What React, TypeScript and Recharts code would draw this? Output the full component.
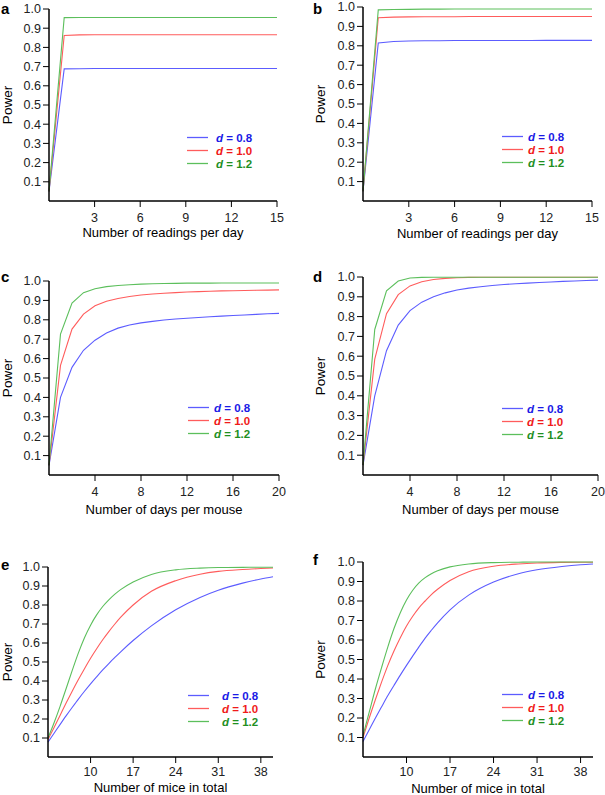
import React from "react"
import { Legend, Line, LineChart, XAxis, YAxis } from "recharts"

// x values per panel row
const readingsX = [0, 1, 2, 3, 4, 5, 6, 7, 8, 9, 10, 11, 12, 13, 14, 15]
const daysX = [0, 1, 2, 3, 4, 5, 6, 7, 8, 9, 10, 11, 12, 13, 14, 15, 16, 17, 18, 19, 20]
const miceX = [3, 4, 5, 6, 7, 8, 9, 10, 11, 12, 13, 14, 15, 17, 20, 24, 28, 31, 35, 38, 40]

const yTicks = [0.1, 0.2, 0.3, 0.4, 0.5, 0.6, 0.7, 0.8, 0.9, 1.0]
const readingsTicks = [3, 6, 9, 12, 15]
const daysTicks = [4, 8, 12, 16, 20]
const miceTicks = [10, 17, 24, 31, 38]

// effect sizes d = 0.8 / 1.0 / 1.2
const effectNames = ["0.8", "1.0", "1.2"]

// panel a
const aBlue = [0.05, 0.688, 0.689, 0.69, 0.69, 0.69, 0.69, 0.69, 0.69, 0.69, 0.69, 0.69, 0.69, 0.69, 0.69, 0.69]
const aRed = [0.05, 0.862, 0.865, 0.866, 0.866, 0.866, 0.866, 0.866, 0.866, 0.866, 0.866, 0.866, 0.866, 0.866, 0.866, 0.866]
const aGreen = [0.05, 0.955, 0.956, 0.956, 0.956, 0.956, 0.956, 0.956, 0.956, 0.956, 0.956, 0.956, 0.956, 0.956, 0.956, 0.956]

// panel b
const bBlue = [0.05, 0.815, 0.822, 0.825, 0.826, 0.826, 0.827, 0.827, 0.827, 0.827, 0.827, 0.827, 0.828, 0.828, 0.828, 0.828]
const bRed = [0.05, 0.945, 0.948, 0.949, 0.95, 0.95, 0.95, 0.951, 0.951, 0.951, 0.951, 0.951, 0.951, 0.951, 0.951, 0.951]
const bGreen = [0.05, 0.985, 0.987, 0.988, 0.989, 0.989, 0.99, 0.99, 0.99, 0.99, 0.99, 0.99, 0.99, 0.99, 0.99, 0.99]

// panel c
const cBlue = [0.05, 0.4, 0.555, 0.643, 0.695, 0.732, 0.757, 0.773, 0.784, 0.792, 0.799, 0.804, 0.808, 0.812, 0.816, 0.819, 0.822, 0.825, 0.828, 0.831, 0.833]
const cRed = [0.05, 0.565, 0.752, 0.829, 0.872, 0.896, 0.91, 0.92, 0.928, 0.933, 0.937, 0.94, 0.943, 0.945, 0.947, 0.949, 0.95, 0.951, 0.952, 0.953, 0.954]
const cGreen = [0.05, 0.726, 0.886, 0.94, 0.96, 0.971, 0.977, 0.981, 0.984, 0.986, 0.987, 0.988, 0.989, 0.989, 0.989, 0.99, 0.99, 0.99, 0.99, 0.99, 0.99]

// panel d
const dBlue = [0.05, 0.4, 0.628, 0.757, 0.83, 0.873, 0.9, 0.92, 0.934, 0.944, 0.951, 0.957, 0.962, 0.966, 0.969, 0.972, 0.975, 0.978, 0.98, 0.982, 0.984]
const dRed = [0.05, 0.585, 0.815, 0.911, 0.955, 0.976, 0.987, 0.993, 0.996, 0.998, 0.999, 0.999, 0.999, 0.999, 0.999, 0.999, 0.999, 0.999, 0.999, 0.999, 0.999]
const dGreen = [0.05, 0.735, 0.93, 0.98, 0.995, 0.998, 0.999, 0.999, 0.999, 0.999, 0.999, 0.999, 0.999, 0.999, 0.999, 0.999, 0.999, 0.999, 0.999, 0.999, 0.999]

// panel e
const eBlue = [0.078, 0.125, 0.172, 0.218, 0.262, 0.305, 0.346, 0.385, 0.422, 0.458, 0.492, 0.524, 0.555, 0.613, 0.69, 0.775, 0.84, 0.878, 0.915, 0.937, 0.949]
const eRed = [0.092, 0.155, 0.22, 0.285, 0.348, 0.408, 0.465, 0.52, 0.57, 0.617, 0.66, 0.7, 0.737, 0.8, 0.872, 0.928, 0.962, 0.977, 0.987, 0.992, 0.995]
const eGreen = [0.1, 0.18, 0.268, 0.362, 0.457, 0.548, 0.628, 0.694, 0.748, 0.792, 0.827, 0.857, 0.882, 0.921, 0.961, 0.985, 0.994, 0.997, 0.998, 0.999, 0.999]

// panel f
const fBlue = [0.08, 0.14, 0.2, 0.258, 0.315, 0.368, 0.42, 0.47, 0.518, 0.565, 0.61, 0.65, 0.688, 0.755, 0.83, 0.897, 0.94, 0.96, 0.977, 0.986, 0.99]
const fRed = [0.1, 0.2, 0.295, 0.385, 0.47, 0.545, 0.612, 0.672, 0.722, 0.765, 0.8, 0.833, 0.86, 0.905, 0.95, 0.978, 0.99, 0.995, 0.998, 0.999, 0.999]
const fGreen = [0.11, 0.23, 0.35, 0.46, 0.565, 0.66, 0.74, 0.805, 0.855, 0.893, 0.92, 0.94, 0.955, 0.975, 0.99, 0.997, 0.999, 1.0, 1.0, 1.0, 1.0]

const lineColors = ["#5c5cff", "#ff5c5c", "#5cbf5c"]
const textColors = ["#1a1ae6", "#f01a1a", "#1f8f1f"]

type Box = { left: number; top: number; width: number; height: number }
type Plot = { left: number; right: number; top: number; bottom: number }

type PanelProps = {
  letter: string
  letterX: number
  letterTop: number
  box: Box
  plot: Plot
  xs: number[]
  series: number[][]
  xDomain: [number, number]
  xTicks: number[]
  xLabel: string
  labelBase: number
  tickGap: number
  powerX: number
  legendX: number
  legendY: number
  textGap: number
  curve: "linear" | "monotone"
}

function makeLegend(textGap: number) {
  return ({ payload }: any) => (
    <svg width={110} height={44} style={{ display: "block" }}>
      {(payload || []).map((p: any, i: number) => {
        const y = 6.5 + i * 13
        return (
          <g key={i}>
            <line x1={0} x2={21} y1={y} y2={y} stroke={p.color} strokeWidth={1.3} />
            <text x={textGap} y={y} dy="0.36em" fill={textColors[i]} fontWeight="bold" fontSize={11.5}>
              <tspan fontStyle="italic">d</tspan> = {p.value}
            </text>
          </g>
        )
      })}
    </svg>
  )
}

function Panel(props: PanelProps) {
  const { box, plot } = props
  const rows = props.xs.map((x, i) => ({
    x,
    s0: props.series[0][i],
    s1: props.series[1][i],
    s2: props.series[2][i],
  }))
  const xAxisHeight = box.top + box.height - plot.bottom
  const yAxisWidth = plot.left - box.left
  return (
    <>
      <div
        style={{
          position: "absolute",
          left: props.letterX,
          top: props.letterTop,
          fontSize: 15,
          lineHeight: "17px",
          fontWeight: "bold",
        }}
      >
        {props.letter}
      </div>
      <div style={{ position: "absolute", left: box.left, top: box.top }}>
        <LineChart
          width={box.width}
          height={box.height}
          data={rows}
          margin={{ top: plot.top - box.top, right: box.left + box.width - plot.right, bottom: 0, left: 0 }}
        >
          <XAxis
            dataKey="x"
            type="number"
            domain={props.xDomain}
            ticks={props.xTicks}
            interval={0}
            height={xAxisHeight}
            axisLine={{ stroke: "#000", strokeWidth: 1.5 }}
            tickLine={{ stroke: "#000" }}
            tickSize={6}
            tickMargin={props.tickGap}
            tick={{ fontSize: 12.5, fill: "#222" }}
            label={{
              value: props.xLabel,
              position: "insideBottom",
              offset: box.top + box.height - props.labelBase,
              fontSize: 13,
              fill: "#000",
            }}
          />
          <YAxis
            type="number"
            domain={[0, 1]}
            ticks={yTicks}
            interval={0}
            width={yAxisWidth}
            axisLine={{ stroke: "#000", strokeWidth: 1.5 }}
            tickLine={{ stroke: "#000" }}
            tickSize={6}
            tickMargin={2}
            tick={{ fontSize: 12.5, fill: "#222" }}
            tickFormatter={(v: number) => v.toFixed(1)}
            label={{
              value: "Power",
              angle: -90,
              position: "insideLeft",
              offset: props.powerX - box.left,
              fontSize: 13.5,
              fill: "#000",
              style: { textAnchor: "middle" },
            }}
          />
          {[0, 1, 2].map((k) => (
            <Line
              key={k}
              dataKey={`s${k}`}
              name={effectNames[k]}
              type={props.curve}
              stroke={lineColors[k]}
              strokeWidth={1.1}
              dot={false}
              isAnimationActive={false}
            />
          ))}
          <Legend
            layout="vertical"
            align="center"
            verticalAlign="middle"
            content={makeLegend(props.textGap)}
            wrapperStyle={{
              left: props.legendX - box.left,
              top: props.legendY - box.top - 6.5,
              width: 110,
              height: 44,
            }}
          />
        </LineChart>
      </div>
    </>
  )
}

export default function App() {
  return (
    <div
      style={{
        position: "absolute",
        left: 0,
        top: 0,
        width: 605,
        height: 795,
        background: "#fff",
        fontFamily: "'Liberation Sans', Arial, sans-serif",
        overflow: "hidden",
      }}
    >
      <Panel
        letter="a"
        letterX={1}
        letterTop={0}
        box={{ left: 0, top: 0, width: 300, height: 260 }}
        plot={{ left: 49, right: 277, top: 9, bottom: 201 }}
        xs={readingsX}
        series={[aBlue, aRed, aGreen]}
        xDomain={[0, 15]}
        xTicks={readingsTicks}
        xLabel="Number of readings per day"
        labelBase={237}
        tickGap={6}
        powerX={7}
        legendX={187}
        legendY={137}
        textGap={29}
        curve="linear"
      />
      <Panel
        letter="b"
        letterX={313}
        letterTop={0}
        box={{ left: 300, top: 0, width: 305, height: 260 }}
        plot={{ left: 363, right: 592, top: 7, bottom: 201 }}
        xs={readingsX}
        series={[bBlue, bRed, bGreen]}
        xDomain={[0, 15]}
        xTicks={readingsTicks}
        xLabel="Number of readings per day"
        labelBase={238}
        tickGap={6}
        powerX={320}
        legendX={502}
        legendY={136}
        textGap={26}
        curve="linear"
      />
      <Panel
        letter="c"
        letterX={1}
        letterTop={268}
        box={{ left: 0, top: 260, width: 300, height: 270 }}
        plot={{ left: 49, right: 279, top: 281, bottom: 475 }}
        xs={daysX}
        series={[cBlue, cRed, cGreen]}
        xDomain={[0, 20]}
        xTicks={daysTicks}
        xLabel="Number of days per mouse"
        labelBase={514}
        tickGap={6}
        powerX={7}
        legendX={188}
        legendY={407}
        textGap={26}
        curve="linear"
      />
      <Panel
        letter="d"
        letterX={313}
        letterTop={268}
        box={{ left: 300, top: 260, width: 305, height: 270 }}
        plot={{ left: 363, right: 598, top: 277, bottom: 475 }}
        xs={daysX}
        series={[dBlue, dRed, dGreen]}
        xDomain={[0, 20]}
        xTicks={daysTicks}
        xLabel="Number of days per mouse"
        labelBase={514}
        tickGap={6}
        powerX={320}
        legendX={502}
        legendY={408}
        textGap={25}
        curve="linear"
      />
      <Panel
        letter="e"
        letterX={1}
        letterTop={556}
        box={{ left: 0, top: 540, width: 300, height: 255 }}
        plot={{ left: 48, right: 273, top: 567, bottom: 757 }}
        xs={miceX}
        series={[eBlue, eRed, eGreen]}
        xDomain={[3, 40]}
        xTicks={miceTicks}
        xLabel="Number of mice in total"
        labelBase={792}
        tickGap={4}
        powerX={7}
        legendX={188}
        legendY={695}
        textGap={34}
        curve="monotone"
      />
      <Panel
        letter="f"
        letterX={313}
        letterTop={551}
        box={{ left: 300, top: 540, width: 305, height: 255 }}
        plot={{ left: 363, right: 593, top: 562, bottom: 757 }}
        xs={miceX}
        series={[fBlue, fRed, fGreen]}
        xDomain={[3, 40]}
        xTicks={miceTicks}
        xLabel="Number of mice in total"
        labelBase={793}
        tickGap={4}
        powerX={320}
        legendX={502}
        legendY={694}
        textGap={26}
        curve="monotone"
      />
    </div>
  )
}
